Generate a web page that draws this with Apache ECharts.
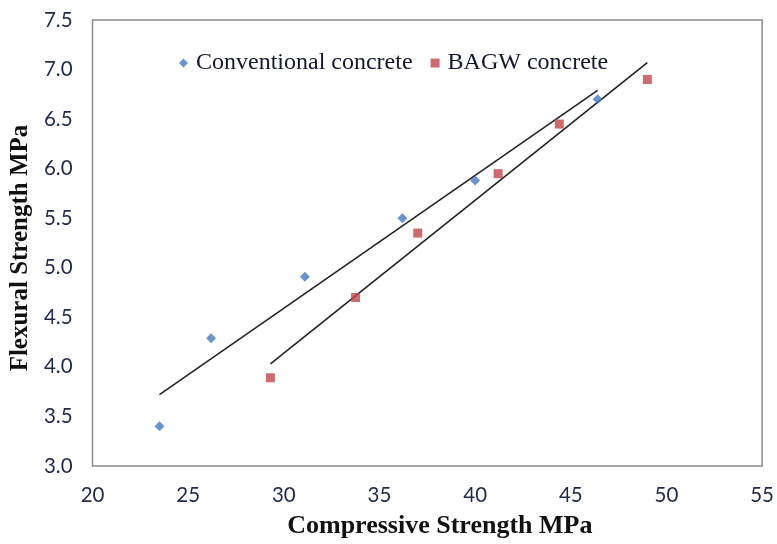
<!DOCTYPE html>
<html>
<head>
<meta charset="utf-8">
<script src="https://cdn.jsdelivr.net/npm/echarts@6/dist/echarts.min.js"></script>
<style>html,body{margin:0;padding:0;background:#fff}#c{width:777px;height:544px}</style>
</head>
<body>
<div id="c"></div>
<script>
// Conventional concrete: [compressive MPa, flexural MPa]
const conventional = [[23.5, 3.40], [26.2, 4.29], [31.1, 4.91], [36.2, 5.50], [40.0, 5.88], [46.4, 6.70]];
// BAGW concrete
const bagw = [[29.3, 3.89], [33.75, 4.70], [37.0, 5.35], [41.2, 5.95], [44.4, 6.45], [49.0, 6.90]];
// Linear trendline endpoints
const trendConventional = [[23.5, 3.72], [46.4, 6.79]];
const trendBagw = [[29.3, 4.03], [49.0, 7.07]];
const seriesNames = ['Conventional concrete', 'BAGW concrete'];
const xTitle = 'Compressive Strength MPa';
const yTitle = 'Flexural Strength MPa';

const chart = echarts.init(document.getElementById('c'), null, {renderer: 'canvas'});
const tickFont = {fontFamily: 'Lato', fontSize: 20.5, color: '#1f2a48'};
chart.setOption({
  animation: false,
  backgroundColor: '#fff',
  grid: {left: 92, right: 12, top: 20, bottom: 78, show: true, borderColor: '#8a8a8a', borderWidth: 1.5},
  legend: {
    data: [
      {name: seriesNames[0], icon: 'diamond', itemStyle: {color: '#4579bd'}},
      {name: seriesNames[1], icon: 'rect', itemStyle: {color: '#c0464a'}}
    ],
    left: 174, top: 46,
    itemWidth: 9, itemHeight: 9, itemGap: 18,
    textStyle: {fontFamily: 'Liberation Serif', fontSize: 24, color: '#15182a', padding: [0, 0, 0, 3]}
  },
  xAxis: {
    type: 'value', min: 20, max: 55, interval: 5,
    axisLine: {show: false}, axisTick: {show: false}, splitLine: {show: false},
    axisLabel: Object.assign({margin: 19}, tickFont),
    name: xTitle, nameLocation: 'middle', nameGap: 47,
    nameTextStyle: {fontFamily: 'Liberation Serif', fontWeight: 'bold', fontSize: 26, color: '#111', padding: [0, 0, 0, 25]}
  },
  yAxis: {
    type: 'value', min: 3, max: 7.5, interval: 0.5,
    axisLine: {show: false}, axisTick: {show: false}, splitLine: {show: false},
    axisLabel: Object.assign({margin: 20, formatter: v => v.toFixed(1)}, tickFont),
    name: yTitle, nameLocation: 'middle', nameGap: 56,
    nameTextStyle: {fontFamily: 'Liberation Serif', fontWeight: 'bold', fontSize: 25, color: '#111', padding: [0, 10, 0, 0]}
  },
  series: [
    {name: 'trend1', type: 'line', data: trendConventional, symbol: 'none', silent: true,
     lineStyle: {color: '#222', width: 1.6}, z: 1},
    {name: 'trend2', type: 'line', data: trendBagw, symbol: 'none', silent: true,
     lineStyle: {color: '#222', width: 1.6}, z: 1},
    {name: seriesNames[0], type: 'scatter', data: conventional, symbol: 'diamond', symbolSize: 10,
     itemStyle: {color: '#4579bd'}, z: 3},
    {name: seriesNames[1], type: 'scatter', data: bagw, symbol: 'rect', symbolSize: 9,
     itemStyle: {color: '#c0464a'}, z: 3}
  ]
});
</script>
</body>
</html>
